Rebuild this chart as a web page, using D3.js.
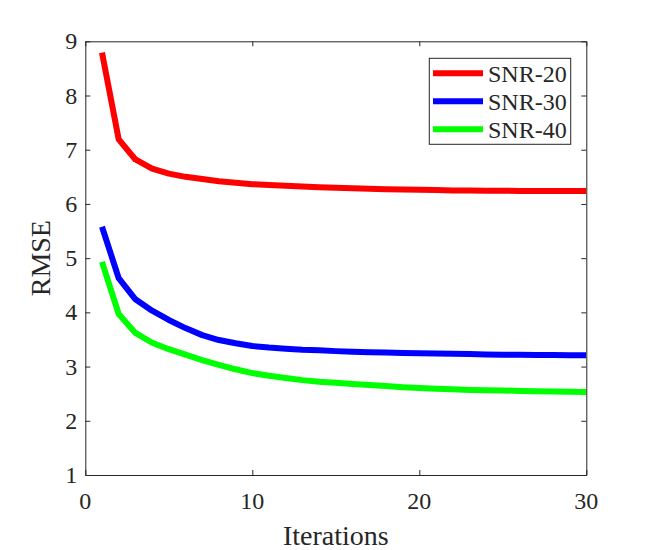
<!DOCTYPE html>
<html>
<head>
<meta charset="utf-8">
<script src="https://cdn.jsdelivr.net/npm/d3@7"></script>
<style>
  html, body { margin: 0; padding: 0; background: #fff; }
  svg { display: block; }
  svg text { font-family: "Liberation Serif", "Times New Roman", serif; fill: #262626; }
</style>
</head>
<body>
<svg id="chart" width="650" height="550"></svg>
<script>
const iterations = [1,2,3,4,5,6,7,8,9,10,11,12,13,14,15,16,17,18,19,20,21,22,23,24,25,26,27,28,29,30];
const snr20 = [8.79,7.19,6.82,6.65,6.56,6.50,6.46,6.42,6.39,6.365,6.35,6.335,6.32,6.31,6.30,6.29,6.28,6.27,6.265,6.26,6.255,6.25,6.25,6.245,6.245,6.24,6.24,6.24,6.24,6.24];
const snr30 = [5.58,4.63,4.24,4.03,3.86,3.71,3.58,3.49,3.43,3.38,3.35,3.33,3.31,3.30,3.285,3.275,3.265,3.26,3.25,3.245,3.24,3.235,3.23,3.225,3.22,3.22,3.215,3.215,3.21,3.21];
const snr40 = [4.93,3.97,3.62,3.44,3.32,3.22,3.12,3.03,2.95,2.88,2.83,2.79,2.75,2.72,2.70,2.68,2.66,2.64,2.62,2.605,2.59,2.58,2.57,2.565,2.56,2.55,2.545,2.54,2.535,2.53];
const seriesNames = ["SNR-20","SNR-30","SNR-40"];
const seriesColors = ["#ff0000","#0000ff","#00ff00"];
const xTicks = [0,10,20,30];
const yTicks = [1,2,3,4,5,6,7,8,9];
const xLabel = "Iterations";
const yLabel = "RMSE";

(function(){
const FONT = '"Liberation Serif", "Times New Roman", serif';
const svg = d3.select("#chart");
const L = 85.3, R = 586.3, T = 41.3, B = 475;
const x = d3.scaleLinear().domain([0,30]).range([L,R]);
const y = d3.scaleLinear().domain([1,9]).range([B,T]);
const axisColor = "#262626";
const tickLen = 5;

svg.append("clipPath").attr("id","clip").append("rect")
  .attr("x",L).attr("y",T).attr("width",R-L).attr("height",B-T);

const allSeries = [snr20, snr30, snr40];
const line = d3.line().x((d,i)=>x(iterations[i])).y(d=>y(d));
const g = svg.append("g").attr("clip-path","url(#clip)");
allSeries.forEach((s,k)=>{
  g.append("path").datum(s).attr("d",line)
    .attr("fill","none").attr("stroke",seriesColors[k])
    .attr("stroke-width",6).attr("stroke-linejoin","round");
});

const axB = svg.append("g").attr("transform",`translate(0,${B})`)
  .call(d3.axisBottom(x).tickValues(xTicks).tickSizeInner(-tickLen).tickSizeOuter(0).tickFormat(""));
const axT = svg.append("g").attr("transform",`translate(0,${T})`)
  .call(d3.axisTop(x).tickValues(xTicks).tickSizeInner(-tickLen).tickSizeOuter(0).tickFormat(""));
const axL = svg.append("g").attr("transform",`translate(${L},0)`)
  .call(d3.axisLeft(y).tickValues(yTicks).tickSizeInner(-tickLen).tickSizeOuter(0).tickFormat(""));
const axR = svg.append("g").attr("transform",`translate(${R},0)`)
  .call(d3.axisRight(y).tickValues(yTicks).tickSizeInner(-tickLen).tickSizeOuter(0).tickFormat(""));

[axB, axT, axL, axR].forEach(a=>{
  a.select(".domain").attr("stroke",axisColor).attr("stroke-width",1);
  a.selectAll(".tick line").attr("stroke",axisColor).attr("stroke-width",1);
  a.selectAll(".tick text").remove();
});

// tick labels
svg.append("g").selectAll("text").data(xTicks).join("text")
  .attr("x",d=>x(d)).attr("y",509)
  .attr("text-anchor","middle").attr("font-family",FONT).attr("font-size",24)
  .text(d=>d);
svg.append("g").selectAll("text").data(yTicks).join("text")
  .attr("x",L-8).attr("y",d=>y(d)+8)
  .attr("text-anchor","end").attr("font-family",FONT).attr("font-size",24)
  .text(d=>d);

svg.append("text").attr("x",(L+R)/2).attr("y",545)
  .attr("text-anchor","middle").attr("font-family",FONT).attr("font-size",28).text(xLabel);
svg.append("text").attr("transform",`translate(50,${(T+B)/2}) rotate(-90)`)
  .attr("text-anchor","middle").attr("font-family",FONT).attr("font-size",28).text(yLabel);

const lg = svg.append("g");
lg.append("rect").attr("x",429.3).attr("y",58.3).attr("width",141.4).attr("height",86)
  .attr("fill","#fff").attr("stroke",axisColor).attr("stroke-width",1);
seriesNames.forEach((n,k)=>{
  const yy = 73.3 + k*28;
  lg.append("line").attr("x1",433).attr("x2",483).attr("y1",yy).attr("y2",yy)
    .attr("stroke",seriesColors[k]).attr("stroke-width",6);
  lg.append("text").attr("x",488).attr("y",yy+9).attr("font-family",FONT).attr("font-size",24).text(n);
});
})();
</script>
</body>
</html>
